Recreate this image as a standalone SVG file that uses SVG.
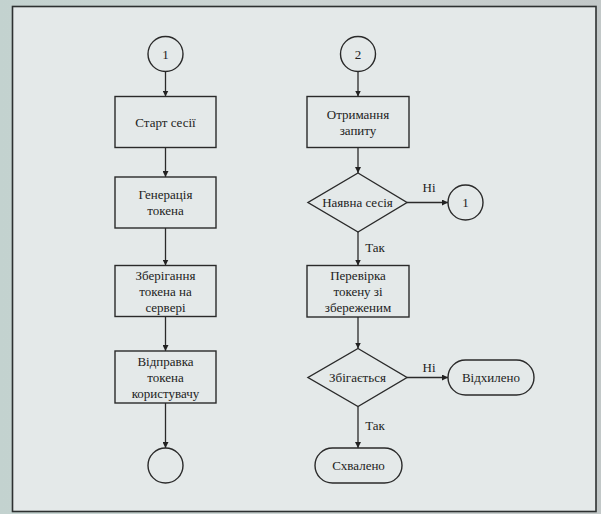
<svg xmlns="http://www.w3.org/2000/svg" width="601" height="514" viewBox="0 0 601 514">
  <defs>
    <linearGradient id="bg" x1="0" y1="0" x2="1" y2="0">
      <stop offset="0" stop-color="#c3d2cf"/>
      <stop offset="0.5" stop-color="#cdd5d4"/>
      <stop offset="1" stop-color="#c2c8c8"/>
    </linearGradient>
    <marker id="arrow" viewBox="0 0 10 10" refX="10" refY="5" markerWidth="6" markerHeight="6" markerUnits="userSpaceOnUse" orient="auto">
      <path d="M0,0 L10,5 L0,10 z" fill="#222"/>
    </marker>
    <style>
      .shape { fill: none; stroke: #2a2a2a; stroke-width: 1.4; }
      .edge { fill: none; stroke: #2a2a2a; stroke-width: 1.3; marker-end: url(#arrow); }
      .lbl { font-size: 13px; fill: #222; text-anchor: middle; }
    </style>
  </defs>

  <!-- page background and frame -->
  <rect x="0" y="0" width="601" height="514" fill="url(#bg)"/>
  <rect x="12.5" y="6.5" width="583.5" height="505" fill="#e4e9e9" stroke="#2d3131" stroke-width="1.6"/>

  <g font-family="'Liberation Serif', 'DejaVu Serif', serif">
  <!-- connectors -->
  <g id="connectors">
    <line class="edge" x1="165.5" y1="71.5" x2="165.5" y2="96.5"/>
    <line class="edge" x1="165.5" y1="147.5" x2="165.5" y2="177"/>
    <line class="edge" x1="165.5" y1="228" x2="165.5" y2="265.5"/>
    <line class="edge" x1="165.5" y1="316.5" x2="165.5" y2="351"/>
    <line class="edge" x1="165.5" y1="403" x2="165.5" y2="448"/>

    <line class="edge" x1="358" y1="71.5" x2="358" y2="96.5"/>
    <line class="edge" x1="358" y1="147.5" x2="358" y2="173"/>
    <line class="edge" x1="407" y1="202.5" x2="448" y2="202.5"/>
    <line class="edge" x1="358" y1="232" x2="358" y2="265.5"/>
    <line class="edge" x1="358" y1="317" x2="358" y2="348.5"/>
    <line class="edge" x1="407" y1="377.5" x2="448" y2="377.5"/>
    <line class="edge" x1="358" y1="406.5" x2="358" y2="448"/>

    <text class="lbl" x="429" y="191.5">Ні</text>
    <text class="lbl" x="375" y="252">Так</text>
    <text class="lbl" x="429" y="371.5">Ні</text>
    <text class="lbl" x="375" y="430">Так</text>
  </g>

  <!-- left flow -->
  <g id="conn-1-start">
    <circle class="shape" cx="165.5" cy="54" r="17.5"/>
    <text class="lbl" x="165.5" y="58.5">1</text>
  </g>
  <g id="start-session">
    <rect class="shape" x="115" y="96.5" width="101" height="51"/>
    <text class="lbl" x="165.5" y="126.5">Старт сесії</text>
  </g>
  <g id="generate-token">
    <rect class="shape" x="115" y="177" width="101" height="51"/>
    <text class="lbl" x="165.5" y="199">Генерація</text>
    <text class="lbl" x="165.5" y="215">токена</text>
  </g>
  <g id="store-token">
    <rect class="shape" x="115" y="265.5" width="101" height="51"/>
    <text class="lbl" x="165.5" y="279.5">Зберігання</text>
    <text class="lbl" x="165.5" y="295.5">токена на</text>
    <text class="lbl" x="165.5" y="311.5">сервері</text>
  </g>
  <g id="send-token">
    <rect class="shape" x="115" y="351" width="101" height="52"/>
    <text class="lbl" x="165.5" y="365.5">Відправка</text>
    <text class="lbl" x="165.5" y="381.5">токена</text>
    <text class="lbl" x="165.5" y="397.5">користувачу</text>
  </g>
  <g id="end-left">
    <circle class="shape" cx="165.5" cy="465.5" r="17.5"/>
  </g>

  <!-- right flow -->
  <g id="conn-2-start">
    <circle class="shape" cx="358" cy="54" r="17.5"/>
    <text class="lbl" x="358" y="58.5">2</text>
  </g>
  <g id="receive-request">
    <rect class="shape" x="307" y="96.5" width="102" height="51"/>
    <text class="lbl" x="358" y="118.5">Отримання</text>
    <text class="lbl" x="358" y="134.5">запиту</text>
  </g>
  <g id="session-exists">
    <polygon class="shape" points="358,173 407,202.5 358,232 308,202.5"/>
    <text class="lbl" x="357.5" y="207">Наявна сесія</text>
  </g>
  <g id="conn-1-goto">
    <circle class="shape" cx="465.5" cy="202.5" r="17.5"/>
    <text class="lbl" x="465.5" y="207">1</text>
  </g>
  <g id="check-token">
    <rect class="shape" x="307" y="265.5" width="102" height="51.5"/>
    <text class="lbl" x="358" y="279.5">Перевірка</text>
    <text class="lbl" x="358" y="295.5">токену зі</text>
    <text class="lbl" x="358" y="311.5">збереженим</text>
  </g>
  <g id="matches">
    <polygon class="shape" points="358,348.5 407,377.5 358,406.5 308,377.5"/>
    <text class="lbl" x="357.5" y="382">Збігається</text>
  </g>
  <g id="rejected">
    <rect class="shape" x="448" y="360" width="86" height="35" rx="17.5" ry="17.5"/>
    <text class="lbl" x="491" y="382">Відхилено</text>
  </g>
  <g id="approved">
    <rect class="shape" x="315" y="448" width="87" height="35" rx="17.5" ry="17.5"/>
    <text class="lbl" x="358.5" y="470">Схвалено</text>
  </g>
  </g>
</svg>
